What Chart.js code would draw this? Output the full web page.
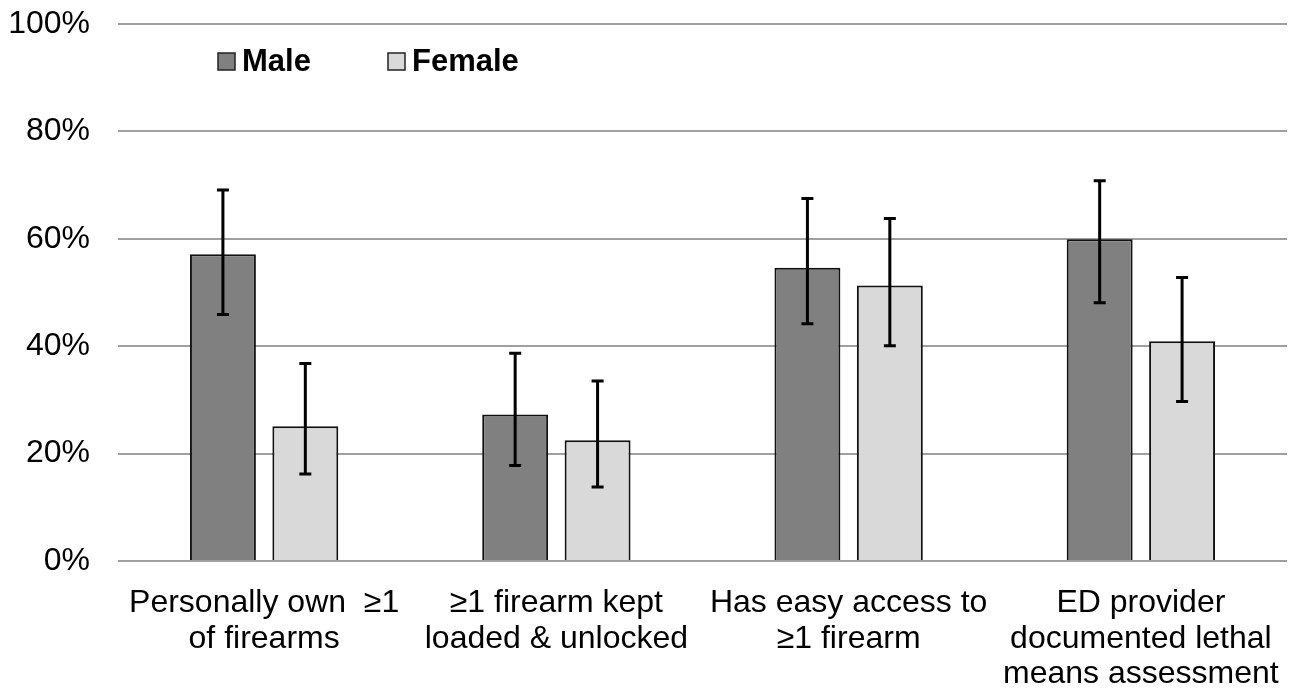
<!DOCTYPE html>
<html>
<head>
<meta charset="utf-8">
<script src="https://cdn.jsdelivr.net/npm/chart.js@4/dist/chart.umd.min.js"></script>
<style>
  html, body { margin: 0; padding: 0; background: #fff; }
  #wrap { width: 1298px; height: 692px; }
</style>
</head>
<body>
<div id="wrap"><canvas id="chart" width="1298" height="692"></canvas></div>
<script>
// Data
const categories = [
  ["Personally own  \u22651", "of firearms"],
  ["\u22651 firearm kept", "loaded & unlocked"],
  ["Has easy access to", "\u22651 firearm"],
  ["ED provider", "documented lethal", "means assessment"],
];
const seriesNames = ["Male", "Female"];
const maleValues = [57.1, 27.3, 54.6, 59.9];
const maleLow = [45.9, 17.8, 44.2, 48.1];
const maleHigh = [69.1, 38.7, 67.5, 70.8];
const femaleValues = [25.1, 22.5, 51.3, 40.9];
const femaleLow = [16.2, 13.8, 40.1, 29.7];
const femaleHigh = [36.8, 33.5, 63.8, 52.8];
const yTicks = [0, 20, 40, 60, 80, 100];

const FONT = "'Liberation Sans', Arial, sans-serif";
const colors = ["#808080", "#d9d9d9"];

// Error bars drawn on top of the bars
const errorBars = {
  id: "errorBars",
  afterDatasetsDraw(chart) {
    const ctx = chart.ctx;
    const y = chart.scales.y;
    const lows = [maleLow, femaleLow];
    const highs = [maleHigh, femaleHigh];
    ctx.save();
    ctx.strokeStyle = "#000";
    ctx.lineWidth = 3;
    chart.data.datasets.forEach((ds, i) => {
      chart.getDatasetMeta(i).data.forEach((bar, j) => {
        const top = y.getPixelForValue(highs[i][j]);
        const bot = y.getPixelForValue(lows[i][j]);
        ctx.beginPath();
        ctx.moveTo(bar.x, top);
        ctx.lineTo(bar.x, bot);
        ctx.moveTo(bar.x - 6, top);
        ctx.lineTo(bar.x + 6, top);
        ctx.moveTo(bar.x - 6, bot);
        ctx.lineTo(bar.x + 6, bot);
        ctx.stroke();
      });
    });
    ctx.restore();
  },
};

// Legend sits inside the plot, top left
const insideLegend = {
  id: "insideLegend",
  afterDraw(chart) {
    const ctx = chart.ctx;
    const area = chart.chartArea;
    const xs = [area.left + 100, area.left + 270];
    const yMid = 61;
    ctx.save();
    ctx.font = "bold 31px " + FONT;
    ctx.textBaseline = "middle";
    seriesNames.forEach((name, i) => {
      ctx.fillStyle = colors[i];
      ctx.fillRect(xs[i], yMid - 8, 17, 17);
      ctx.strokeStyle = "#222";
      ctx.lineWidth = 1.5;
      ctx.strokeRect(xs[i], yMid - 8, 17, 17);
      ctx.fillStyle = "#000";
      ctx.fillText(name, xs[i] + 24, yMid + 1);
    });
    ctx.restore();
  },
};

new Chart(document.getElementById("chart"), {
  type: "bar",
  data: {
    labels: categories,
    datasets: [
      {
        label: seriesNames[0],
        data: maleValues,
        backgroundColor: colors[0],
        borderColor: "#111",
        borderWidth: 2,
      },
      {
        label: seriesNames[1],
        data: femaleValues,
        backgroundColor: colors[1],
        borderColor: "#111",
        borderWidth: 2,
      },
    ],
  },
  options: {
    responsive: false,
    animation: false,
    devicePixelRatio: 1,
    categoryPercentage: 0.564,
    barPercentage: 0.8,
    layout: { padding: { top: 24, right: 11, left: 0, bottom: 0 } },
    plugins: {
      legend: { display: false },
      tooltip: { enabled: false },
    },
    scales: {
      x: {
        grid: { display: false },
        border: { display: false },
        ticks: {
          color: "#000",
          font: { family: FONT, size: 32, lineHeight: 1.12 },
          padding: 16,
          maxRotation: 0,
          autoSkip: false,
        },
        afterFit(scale) { scale.height = 131; },
      },
      y: {
        min: 0,
        max: 100,
        border: { display: false },
        grid: { color: "#a0a0a0", lineWidth: 2, drawTicks: false },
        afterBuildTicks(scale) { scale.ticks = yTicks.map((v) => ({ value: v })); },
        ticks: {
          color: "#000",
          font: { family: FONT, size: 32 },
          padding: 28,
          callback: (v) => v + "%",
        },
        afterFit(scale) {
          scale.width = 118;
          scale.paddingTop = 0;
          scale.paddingBottom = 0;
        },
      },
    },
  },
  plugins: [errorBars, insideLegend],
});
</script>
</body>
</html>
